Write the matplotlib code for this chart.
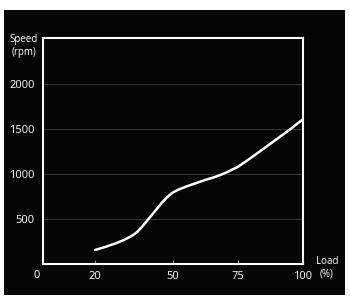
import matplotlib
matplotlib.use("Agg")
import matplotlib.pyplot as plt
from matplotlib.patches import Rectangle
import numpy as np

load = [20, 24, 28, 31, 34, 36, 38, 40, 42, 44, 46, 48, 50, 52, 55, 58, 62, 66, 70, 75,
        80, 85, 90, 95, 100]
speed = [155, 190, 230, 265, 310, 350, 410, 480, 550, 620, 690, 750, 795, 825, 860, 890,
         930, 965, 1010, 1080, 1180, 1285, 1390, 1495, 1610]
xticks = [20, 50, 75, 100]
yticks = [500, 1000, 1500, 2000]

plt.rcParams['font.family'] = ['Open Sans', 'DejaVu Sans']

W, H = 350, 306
fig = plt.figure(figsize=(W / 100, H / 100), dpi=100)
fig.patch.set_facecolor('white')
fig.patches.append(Rectangle((4 / W, 1 - 295 / H), 341 / W, 285 / H,
                             transform=fig.transFigure, facecolor='#050505',
                             edgecolor='none', zorder=-5))

ax = fig.add_axes([43 / W, 1 - 264 / H, 260 / W, 226 / H])
ax.set_zorder(2)
ax.set_facecolor('#050505')
ax.set_xlim(0, 100)
ax.set_ylim(0, 2511)

for y in yticks:
    ax.axhline(y, color='#333333', lw=0.8, zorder=1)

ax.plot(load, speed, color='white', lw=1.8, solid_capstyle='round',
        solid_joinstyle='round', zorder=3)

for s in ax.spines.values():
    s.set_color('white')
    s.set_linewidth(1.5)

ax.set_xticks(xticks)
ax.set_xticklabels([str(v) for v in xticks])
ax.set_yticks(yticks)
ax.set_yticklabels([str(v) for v in yticks])
ax.tick_params(axis='x', direction='in', length=3, width=0.8, color='#888888',
               labelcolor='white', labelsize=8, pad=5)
ax.tick_params(axis='y', length=0, labelsize=8, labelcolor='white', pad=6)

fig.text(37 / W, 1 - 275 / H, '0', color='white', fontsize=8, ha='center', va='center', zorder=5)
fig.text(24 / W, 1 - 46 / H, 'Speed\n(rpm)', color='white', fontsize=7,
         ha='center', va='center', linespacing=1.25, zorder=5)
fig.text(327 / W, 1 - 268 / H, 'Load\n(%)', color='white', fontsize=7,
         ha='center', va='center', linespacing=1.25, zorder=5)

fig.savefig('out.png', dpi=100, facecolor='white')
